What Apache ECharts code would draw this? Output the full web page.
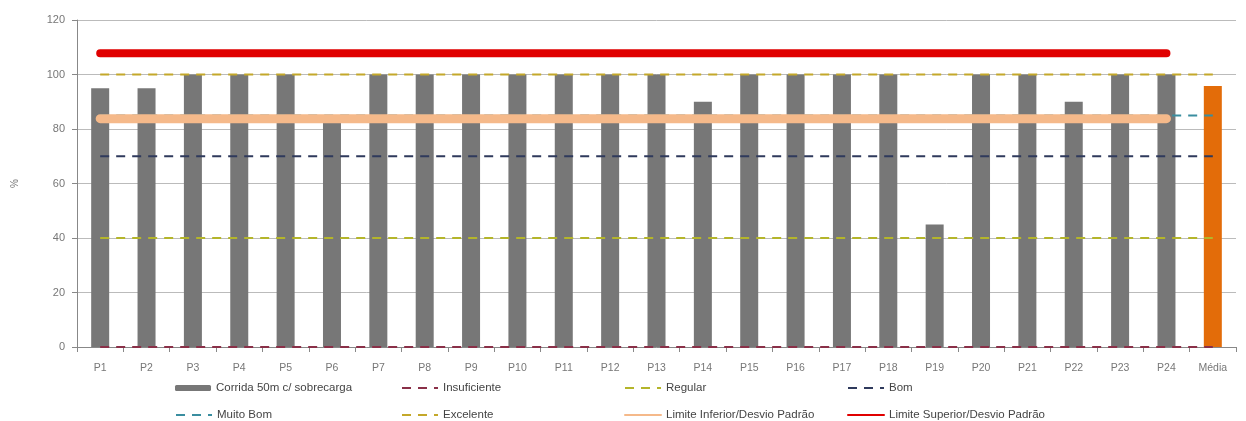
<!DOCTYPE html>
<html><head><meta charset="utf-8">
<script src="https://cdn.jsdelivr.net/npm/echarts@6/dist/echarts.min.js"></script>
<style>html,body{margin:0;padding:0;background:#fff}#c{width:1246px;height:421px}</style>
</head><body><div id="c"></div>
<script>
const categories = ['P1','P2','P3','P4','P5','P6','P7','P8','P9','P10','P11','P12','P13','P14','P15','P16','P17','P18','P19','P20','P21','P22','P23','P24','Média'];
const corrida = [95,95,100,100,100,83,100,100,100,100,100,100,100,90,100,100,100,100,45,100,100,90,100,100,95.8];
const insuficiente = [0,0,0,0,0,0,0,0,0,0,0,0,0,0,0,0,0,0,0,0,0,0,0,0,0];
const regular = [40,40,40,40,40,40,40,40,40,40,40,40,40,40,40,40,40,40,40,40,40,40,40,40,40];
const bom = [70,70,70,70,70,70,70,70,70,70,70,70,70,70,70,70,70,70,70,70,70,70,70,70,70];
const muitoBom = [85,85,85,85,85,85,85,85,85,85,85,85,85,85,85,85,85,85,85,85,85,85,85,85,85];
const excelente = [100,100,100,100,100,100,100,100,100,100,100,100,100,100,100,100,100,100,100,100,100,100,100,100,100];
const limInf = [83.8,83.8,83.8,83.8,83.8,83.8,83.8,83.8,83.8,83.8,83.8,83.8,83.8,83.8,83.8,83.8,83.8,83.8,83.8,83.8,83.8,83.8,83.8,83.8,'-'];
const limSup = [107.8,107.8,107.8,107.8,107.8,107.8,107.8,107.8,107.8,107.8,107.8,107.8,107.8,107.8,107.8,107.8,107.8,107.8,107.8,107.8,107.8,107.8,107.8,107.8,'-'];
const yTicks = [0,20,40,60,80,100,120];

const chart = echarts.init(document.getElementById('c'), null, {renderer:'canvas'});
const font = 'Liberation Sans';
const dashed = (name, data, color) => ({
  name, type:'line', data, symbol:'none', showSymbol:false, silent:true,
  lineStyle:{color, width:2, type:[9,7]}, itemStyle:{color}
});
const series = [
  {name:'Corrida 50m c/ sobrecarga', type:'bar', barWidth:18,
   data: corrida.map((v,i)=> i===corrida.length-1 ? {value:v, itemStyle:{color:'#e36c09'}} : v),
   itemStyle:{color:'#777777'}},
  dashed('Insuficiente', insuficiente, '#8a3048'),
  dashed('Regular', regular, '#b4b52a'),
  dashed('Bom', bom, '#2f3a5c'),
  dashed('Muito Bom', muitoBom, '#3a8ea0'),
  dashed('Excelente', excelente, '#c4a82a'),
  {name:'Limite Inferior/Desvio Padrão', type:'line', data:limInf, symbol:'none', showSymbol:false,
   lineStyle:{color:'#f5b98a', width:9, cap:'round'}, itemStyle:{color:'#f5b98a'}},
  {name:'Limite Superior/Desvio Padrão', type:'line', data:limSup, symbol:'none', showSymbol:false,
   lineStyle:{color:'#e00000', width:8, cap:'round'}, itemStyle:{color:'#e00000'}}
];
const legPos = [
  ['Corrida 50m c/ sobrecarga',170,377],['Insuficiente',396,377],['Regular',619,377],['Bom',842,377],
  ['Muito Bom',170,404],['Excelente',396,404],['Limite Inferior/Desvio Padrão',619,404],['Limite Superior/Desvio Padrão',842,404]
];
const legends = legPos.map(([n,x,y], i) => ({
  data:[n], left:x, top:y, itemWidth:36, itemHeight:i===0?6:8, itemGap:4,
  itemStyle:{opacity:i===0?1:0},
  lineStyle:{width:2},
  textStyle:{fontFamily:font, fontSize:11.5, color:'#444'}, selectedMode:false
}));
chart.setOption({
  animation:false,
  backgroundColor:'#fff',
  legend: legends,
  grid:{left:77, right:10, top:20, bottom:74, containLabel:false},
  xAxis:{type:'category', data:categories, boundaryGap:true,
    axisLine:{lineStyle:{color:'#888', width:1}},
    axisTick:{show:true, length:5, lineStyle:{color:'#888'}},
    axisLabel:{fontFamily:font, fontSize:10.5, color:'#777', margin:16}},
  yAxis:{type:'value', min:0, max:120, interval:20, name:'%', nameLocation:'middle', nameGap:57, nameRotate:90,
    nameTextStyle:{fontFamily:font, fontSize:10, color:'#777'},
    axisLine:{show:true, lineStyle:{color:'#888'}},
    axisTick:{show:true, length:5, lineStyle:{color:'#888'}},
    axisLabel:{fontFamily:font, fontSize:11, color:'#777', margin:12},
    splitLine:{lineStyle:{color:'#bbb', width:1}}},
  series
});
</script></body></html>
